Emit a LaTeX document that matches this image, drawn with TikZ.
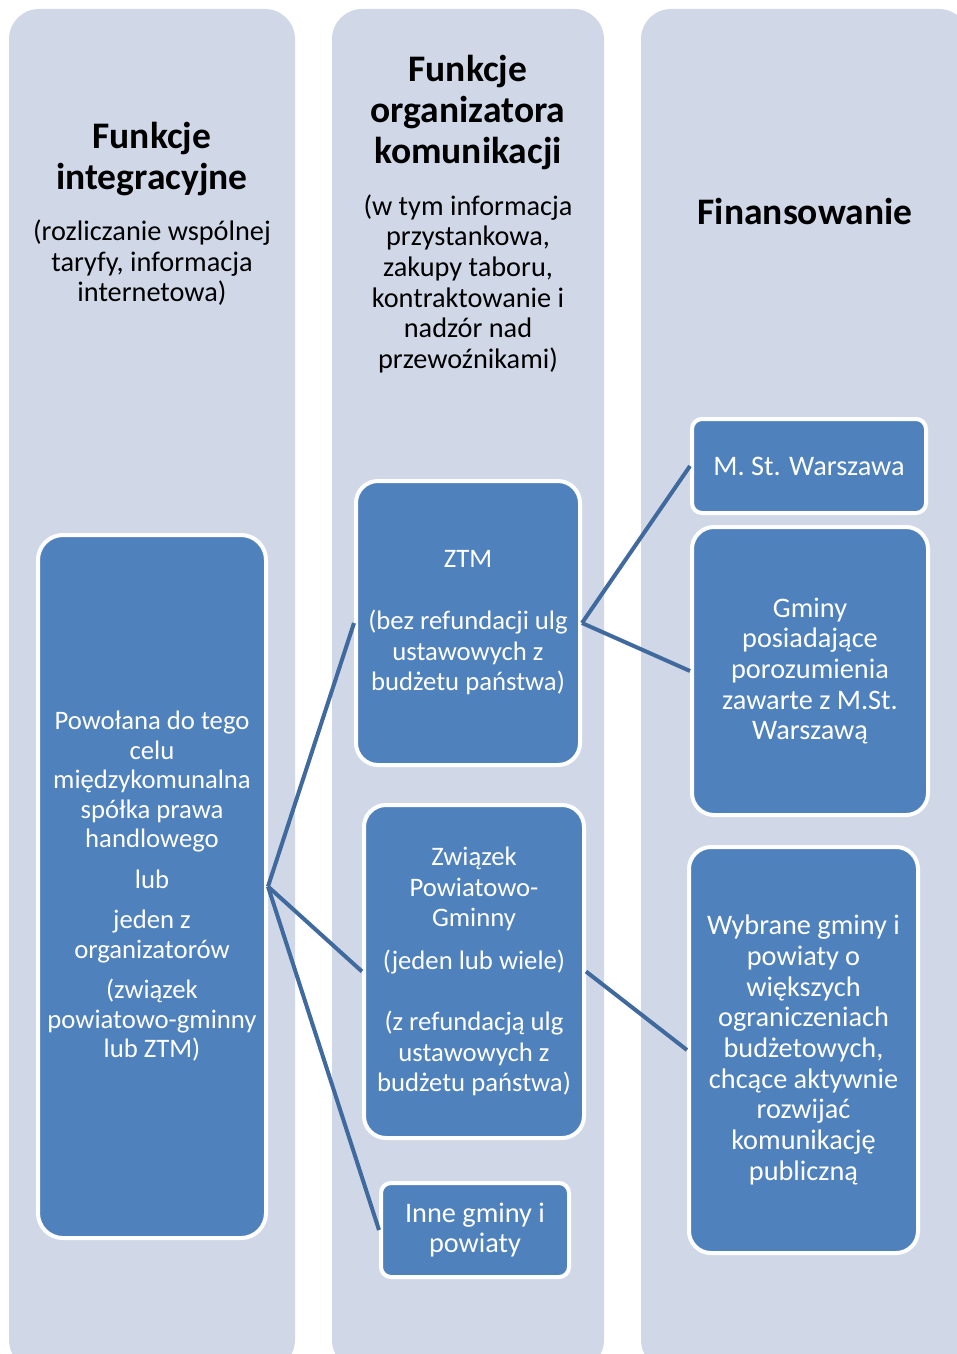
\documentclass[tikz,border=0pt]{standalone}
\usepackage{fontspec}
\setmainfont{Carlito}
\usetikzlibrary{positioning}
\definecolor{colfill}{RGB}{208,216,232}
\definecolor{boxfill}{RGB}{79,129,189}
\definecolor{linkcol}{RGB}{64,106,158}

\begin{document}
\begin{tikzpicture}[
x=1pt, y=-1pt,
node distance=17pt,
head/.style={align=center, font=\bfseries\fontsize{37.5}{41}\selectfont},
sub/.style={align=center, font=\fontsize{28.3}{30.7}\selectfont},
box/.style={draw=white, line width=4pt, fill=boxfill, text=white, align=center, rounded corners=#1, inner sep=0pt, font=\fontsize{28.3}{30.7}\selectfont},
box/.default=22pt,
small/.style={font=\fontsize{26.7}{30.7}\selectfont},
link/.style={draw=linkcol, line width=4pt}
]
\useasboundingbox (0,0) rectangle (956,1354);

% columns
\fill[colfill, rounded corners=30pt] (9,9) rectangle (295,1370);
\fill[colfill, rounded corners=30pt] (332,9) rectangle (604,1370);
\fill[colfill, rounded corners=30pt] (641,9) rectangle (969,1370);

% headers
\node[head] (t1) at (152,159) {Funkcje\\integracyjne};
\node[sub, below=of t1] (s1) {(rozliczanie wspólnej\\taryfy, informacja\\internetowa)};
\node[head] (t2) at (468,113) {Funkcje\\organizatora\\komunikacji};
\node[sub, below=of t2] (s2) {(w tym informacja\\przystankowa,\\zakupy taboru,\\kontraktowanie i\\nadzór nad\\przewoźnikami)};
\node[head] (t3) at (805,211) {Finansowanie};

% boxes
\node[box=25pt, small, minimum width=228pt, minimum height=703pt, font=\fontsize{26.7}{29.5}\selectfont] (spolka) at (152,886.5) {Powołana do tego\\celu\\międzykomunalna\\spółka prawa\\handlowego\\[11pt]lub\\[11pt]jeden z\\organizatorów\\[11pt](związek\\powiatowo-gminny\\lub ZTM)};
\node[box, small, minimum width=224pt, minimum height=284pt] (ztm) at (468,623) {ZTM\\[31pt](bez refundacji ulg\\ustawowych z\\budżetu państwa)};
\node[box, small, minimum width=220pt, minimum height=333pt] (zwiazek) at (474,971.5) {Związek\\Powiatowo-\\Gminny\\[12pt](jeden lub wiele)\\[30pt](z refundacją ulg\\ustawowych z\\budżetu państwa)};
\node[box=10pt, minimum width=188pt, minimum height=94pt] (inne) at (475,1230) {Inne gminy i\\powiaty};
\node[box=10pt, minimum width=234pt, minimum height=94pt] (warszawa) at (809,466) {M. St. Warszawa};
\node[box, minimum width=236pt, minimum height=288pt] (porozum) at (810,671) {Gminy\\posiadające\\porozumienia\\zawarte z M.St.\\Warszawą};
\node[box, minimum width=229pt, minimum height=406pt] (wybrane) at (803.5,1050) {Wybrane gminy i\\powiaty o\\większych\\ograniczeniach\\budżetowych,\\chcące aktywnie\\rozwijać\\komunikację\\publiczną};

% connectors
\draw[link] (spolka.east) -- (ztm.west);
\draw[link] (spolka.east) -- (zwiazek.west);
\draw[link] (spolka.east) -- (inne.west);
\draw[link] (ztm.east) -- (warszawa.west);
\draw[link] (ztm.east) -- (porozum.west);
\draw[link] (zwiazek.east) -- (wybrane.west);
\end{tikzpicture}
\end{document}
